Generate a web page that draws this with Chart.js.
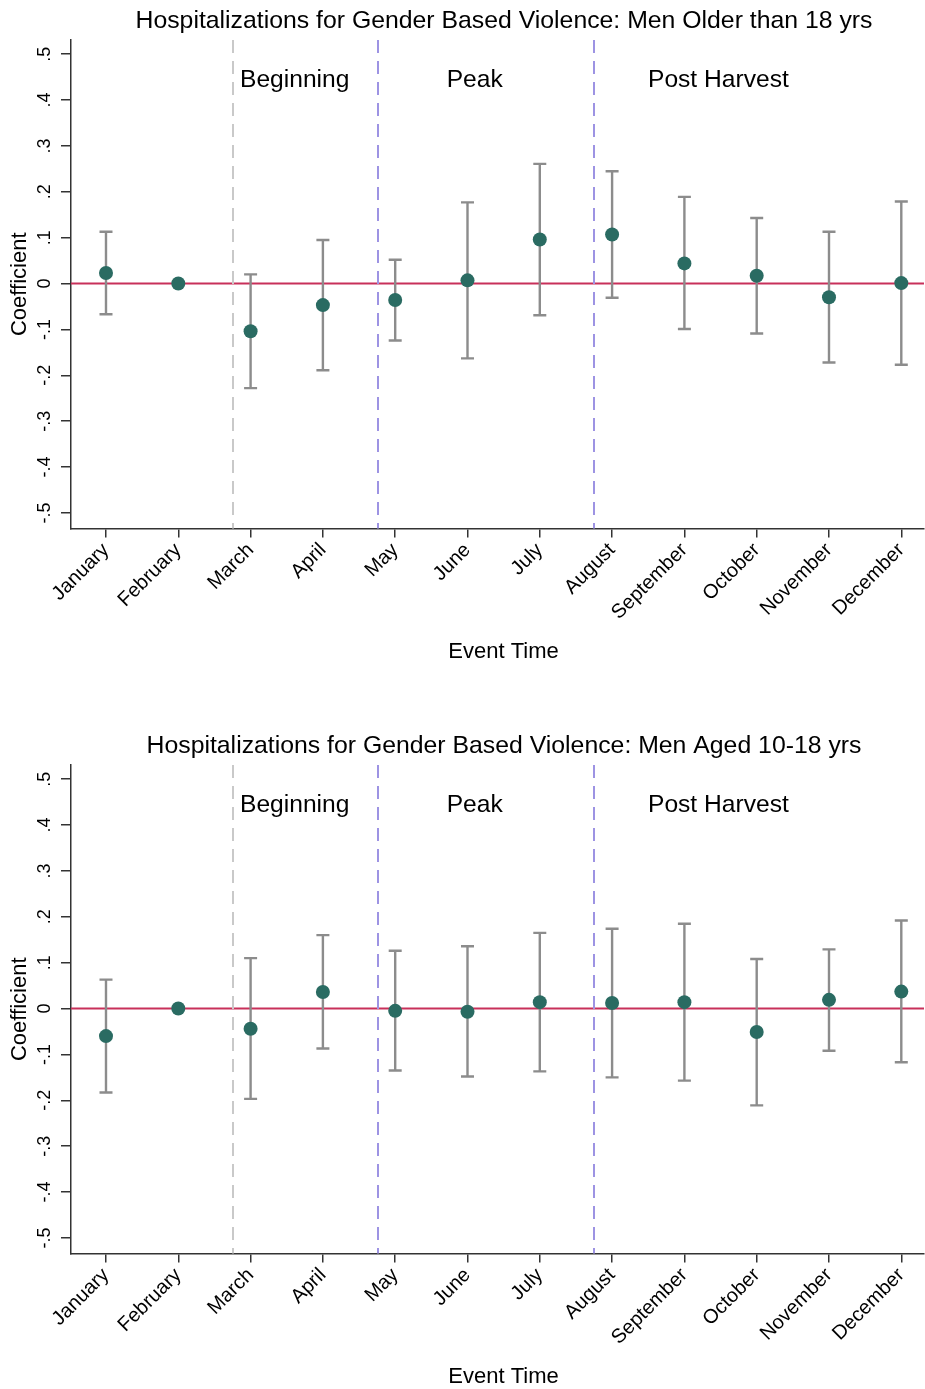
<!DOCTYPE html>
<html>
<head>
<meta charset="utf-8">
<script src="https://cdn.jsdelivr.net/npm/chart.js@4.4.1/dist/chart.umd.min.js"></script>
<style>
  html, body { margin: 0; padding: 0; background: #fff; }
  #wrap { position: relative; width: 925px; height: 1389px; }
  .box { position: absolute; left: 0; width: 925px; }
</style>
</head>
<body>
<div id="wrap">
  <div class="box" style="top:0;height:725px"><canvas id="chartOlder"></canvas></div>
  <div class="box" style="top:725px;height:664px"><canvas id="chartYoung"></canvas></div>
</div>
<script>
// data
const months = ["January", "February", "March", "April", "May", "June", "July",
  "August", "September", "October", "November", "December"];
const yTickValues = [-0.5, -0.4, -0.3, -0.2, -0.1, 0, 0.1, 0.2, 0.3, 0.4, 0.5];

// men older than 18
const coefOlder = [0.023, 0, -0.104, -0.047, -0.036, 0.007, 0.096, 0.107, 0.044, 0.017, -0.030, 0.001];
const lowOlder  = [-0.067, null, -0.228, -0.189, -0.124, -0.163, -0.069, -0.031, -0.099, -0.109, -0.172, -0.177];
const highOlder = [0.113, null, 0.020, 0.095, 0.052, 0.177, 0.261, 0.245, 0.189, 0.143, 0.113, 0.179];

// men aged 10-18
const coefYoung = [-0.060, 0, -0.044, 0.036, -0.005, -0.007, 0.014, 0.012, 0.014, -0.051, 0.019, 0.037];
const lowYoung  = [-0.183, null, -0.197, -0.087, -0.135, -0.148, -0.137, -0.150, -0.157, -0.211, -0.092, -0.117];
const highYoung = [0.063, null, 0.110, 0.160, 0.126, 0.136, 0.165, 0.174, 0.185, 0.108, 0.129, 0.192];

// harvest phases
const phaseNames = ["Beginning", "Peak", "Post Harvest"];
const phaseLabelX = [2.61, 5.1, 8.47];
const phaseBreaks = [1.756, 3.758, 6.754];
const phaseLineColors = ["#c9c9c9", "#9d93e3", "#9d93e3"];

const FONT = "'Liberation Sans', Arial, Helvetica, sans-serif";
const AXIS = "#333333";

// reference lines, error bars, and the rotated texts
const decorPlugin = {
  id: "decor",
  beforeDatasetsDraw(chart, args, opts) {
    const { ctx, chartArea: a, scales: { x, y } } = chart;
    ctx.save();
    // zero line
    ctx.strokeStyle = "#c8305a";
    ctx.lineWidth = 2;
    ctx.beginPath();
    ctx.moveTo(a.left, y.getPixelForValue(0));
    ctx.lineTo(a.right, y.getPixelForValue(0));
    ctx.stroke();
    // phase lines
    ctx.lineWidth = 2;
    ctx.setLineDash([13, 8]);
    phaseBreaks.forEach((v, i) => {
      const px = Math.round(x.getPixelForValue(v));
      ctx.strokeStyle = phaseLineColors[i];
      ctx.beginPath();
      ctx.moveTo(px, a.top);
      ctx.lineTo(px, a.bottom);
      ctx.stroke();
    });
    ctx.setLineDash([]);
    // confidence intervals
    ctx.strokeStyle = "#8c8c8c";
    ctx.lineWidth = 2.4;
    opts.low.forEach((lo, i) => {
      const hi = opts.high[i];
      if (lo === null || hi === null) return;
      const px = x.getPixelForValue(i);
      const y1 = y.getPixelForValue(lo);
      const y2 = y.getPixelForValue(hi);
      ctx.beginPath();
      ctx.moveTo(px, y1);
      ctx.lineTo(px, y2);
      ctx.moveTo(px - 6.5, y1);
      ctx.lineTo(px + 6.5, y1);
      ctx.moveTo(px - 6.5, y2);
      ctx.lineTo(px + 6.5, y2);
      ctx.stroke();
    });
    ctx.restore();
  },
  afterDraw(chart, args, opts) {
    const { ctx, chartArea: a, scales: { x, y } } = chart;
    ctx.save();
    ctx.fillStyle = "#000";
    ctx.textAlign = "center";
    ctx.textBaseline = "middle";
    // title
    ctx.font = "24.8px " + FONT;
    ctx.fillText(opts.title, 504, 21);
    // phase names
    ctx.font = "24.6px " + FONT;
    phaseNames.forEach((name, i) => {
      ctx.fillText(name, x.getPixelForValue(phaseLabelX[i]), y.getPixelForValue(0.443));
    });
    // y tick labels, rotated
    ctx.font = "18px " + FONT;
    yTickValues.forEach(v => {
      let s = v === 0 ? "0" : v.toFixed(1).replace("0.", ".");
      ctx.save();
      ctx.translate(45, y.getPixelForValue(v));
      ctx.rotate(-Math.PI / 2);
      ctx.fillText(s, 0, 0);
      ctx.restore();
    });
    // axis titles
    ctx.font = "22px " + FONT;
    ctx.save();
    ctx.translate(20, (a.top + a.bottom) / 2);
    ctx.rotate(-Math.PI / 2);
    ctx.fillText("Coefficient", 0, 0);
    ctx.restore();
    ctx.fillText("Event Time", 503.5, a.bottom + 123);
    ctx.restore();
  }
};

function makeChart(id, title, coef, low, high, canvasH) {
  return new Chart(document.getElementById(id), {
    type: "scatter",
    data: {
      datasets: [{
        data: coef.map((v, i) => ({ x: i, y: v })),
        backgroundColor: "#2a6b62",
        borderWidth: 0,
        pointRadius: 7,
        pointHoverRadius: 7
      }]
    },
    options: {
      responsive: true,
      maintainAspectRatio: false,
      animation: false,
      devicePixelRatio: 1,
      layout: { autoPadding: false, padding: { top: 40, left: 0, right: 1, bottom: 0 } },
      plugins: {
        legend: { display: false },
        tooltip: { enabled: false },
        decor: { title: title, low: low, high: high }
      },
      scales: {
        x: {
          type: "linear",
          min: -0.484,
          max: 11.314,
          afterBuildTicks: s => { s.ticks = months.map((m, i) => ({ value: i })); },
          afterFit: s => {
            s.height = canvasH - 528.5;
            s.paddingLeft = 0;
            s.paddingRight = 0;
          },
          ticks: {
            autoSkip: false,
            minRotation: 45,
            maxRotation: 45,
            color: "#000",
            font: { family: FONT, size: 20 },
            padding: 1,
            callback: v => months[v]
          },
          grid: { drawOnChartArea: false, drawTicks: true, tickLength: 9, color: AXIS, lineWidth: 1.5 },
          border: { display: true, color: AXIS, width: 1.5 }
        },
        y: {
          min: -0.534,
          max: 0.531,
          afterBuildTicks: s => { s.ticks = yTickValues.map(v => ({ value: v })); },
          afterFit: s => {
            s.width = 71;
            s.paddingTop = 0;
            s.paddingBottom = 0;
          },
          ticks: { display: false },
          grid: { drawOnChartArea: false, drawTicks: true, tickLength: 10, color: AXIS, lineWidth: 1.5 },
          border: { display: true, color: AXIS, width: 1.5 }
        }
      }
    },
    plugins: [decorPlugin]
  });
}

makeChart("chartOlder", "Hospitalizations for Gender Based Violence: Men Older than 18 yrs",
  coefOlder, lowOlder, highOlder, 725);
makeChart("chartYoung", "Hospitalizations for Gender Based Violence: Men Aged 10-18 yrs",
  coefYoung, lowYoung, highYoung, 664);
</script>
</body>
</html>
